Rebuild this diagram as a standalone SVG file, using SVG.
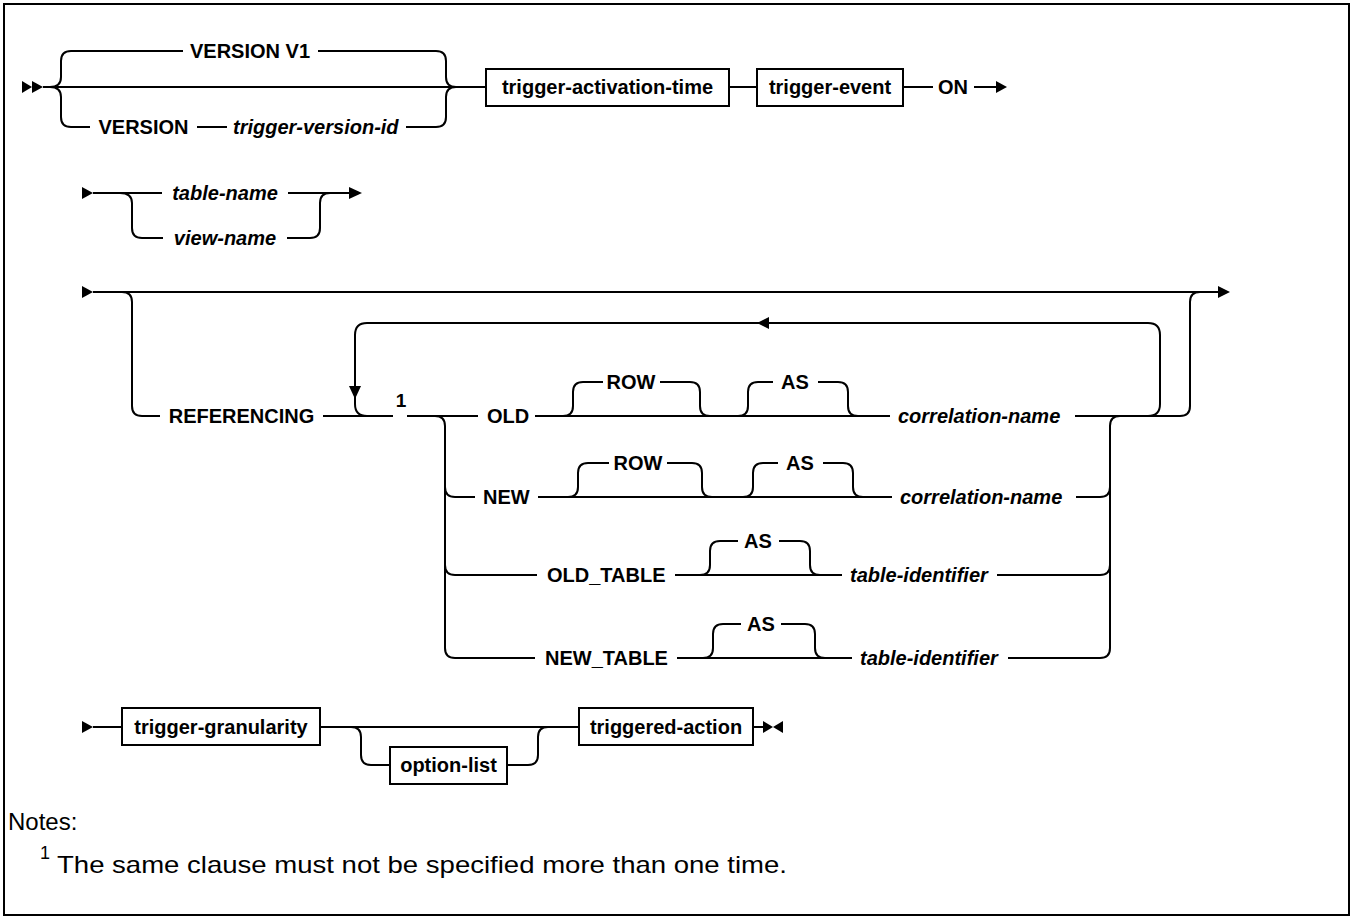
<svg xmlns="http://www.w3.org/2000/svg" width="1351" height="919" viewBox="0 0 1351 919">
<style>
.l{fill:none;stroke:#000;stroke-width:2}
.a{fill:#000;stroke:none}
.b{fill:#fff;stroke:#000;stroke-width:2}
.t{font-family:"Liberation Sans",Arial,sans-serif;font-size:20px;font-weight:bold;fill:#000}
.v{font-family:"Liberation Sans",Arial,sans-serif;font-size:20px;font-weight:bold;font-style:italic;fill:#000}
.m{text-anchor:middle}
.n{font-family:"Liberation Sans",Arial,sans-serif;font-size:24px;fill:#000}
</style>
<rect x="4" y="4" width="1345" height="911" fill="#fff" stroke="#000" stroke-width="2"/>
<g id="connectors">
<!-- row 1 -->
<polygon class="a" points="22,81 32,87 22,93"/>
<polygon class="a" points="32,81 43,87 32,93"/>
<path class="l" d="M43,87 H486"/>
<path class="l" d="M50,87 Q61,87 61,77 V61 Q61,51 71,51 H183"/>
<path class="l" d="M318,51 H436 Q446,51 446,61 V77 Q446,87 456,87"/>
<path class="l" d="M50,87 Q61,87 61,97 V117 Q61,127 71,127 H90"/>
<path class="l" d="M197,127 H227"/>
<path class="l" d="M406,127 H436 Q446,127 446,117 V97 Q446,87 456,87"/>
<path class="l" d="M729,87 H757"/>
<path class="l" d="M903,87 H933"/>
<path class="l" d="M974,87 H997"/>
<polygon class="a" points="996,81 1007,87 996,93"/>
<!-- row 2 -->
<polygon class="a" points="82,187 93,193 82,199"/>
<path class="l" d="M93,193 H162"/>
<path class="l" d="M288,193 H350"/>
<polygon class="a" points="349,187 362,193 349,199"/>
<path class="l" d="M120,193 Q132,193 132,203 V228 Q132,238 142,238 H163"/>
<path class="l" d="M287,238 H310 Q320,238 320,228 V203 Q320,193 330,193"/>
<!-- row 3 -->
<polygon class="a" points="82,286 93,292 82,298"/>
<path class="l" d="M93,292 H1219"/>
<polygon class="a" points="1218,286 1230,292 1218,298"/>
<path class="l" d="M122,292 Q132,292 132,302 V406 Q132,416 142,416 H160"/>
<path class="l" d="M323,416 H393"/>
<path class="l" d="M407,416 H478"/>
<path class="l" d="M1148,416 Q1160,416 1160,404 V335 Q1160,323 1148,323 H367 Q355,323 355,335 V404 Q355,416 367,416"/>
<polygon class="a" points="349,386 361,386 355,399"/>
<polygon class="a" points="769,317 769,329 757,323"/>
<path class="l" d="M1075,416 H1180 Q1190,416 1190,406 V302 Q1190,292 1200,292"/>
<path class="l" d="M435,416 Q445,416 445,426 V648 Q445,658 455,658 H535"/>
<path class="l" d="M445,487 Q445,497 455,497 H475"/>
<path class="l" d="M445,565 Q445,575 455,575 H537"/>
<path class="l" d="M1120,416 Q1110,416 1110,426 V648 Q1110,658 1100,658 H1008"/>
<path class="l" d="M1076,497 H1100 Q1110,497 1110,487"/>
<path class="l" d="M997,575 H1100 Q1110,575 1110,565"/>
<!-- OLD row -->
<path class="l" d="M535,416 H890"/>
<path class="l" d="M563,416 Q573,416 573,406 V392 Q573,382 583,382 H603"/>
<path class="l" d="M660,382 H690 Q700,382 700,392 V406 Q700,416 710,416"/>
<path class="l" d="M738,416 Q748,416 748,406 V392 Q748,382 758,382 H773"/>
<path class="l" d="M818,382 H838 Q848,382 848,392 V406 Q848,416 858,416"/>
<!-- NEW row -->
<path class="l" d="M538,497 H892"/>
<path class="l" d="M568,497 Q578,497 578,487 V473 Q578,463 588,463 H609"/>
<path class="l" d="M667,463 H692 Q702,463 702,473 V487 Q702,497 712,497"/>
<path class="l" d="M743,497 Q753,497 753,487 V473 Q753,463 763,463 H778"/>
<path class="l" d="M823,463 H843 Q853,463 853,473 V487 Q853,497 863,497"/>
<!-- OLD_TABLE row -->
<path class="l" d="M675,575 H842"/>
<path class="l" d="M700,575 Q710,575 710,565 V551 Q710,541 720,541 H738"/>
<path class="l" d="M779,541 H800 Q810,541 810,551 V565 Q810,575 820,575"/>
<!-- NEW_TABLE row -->
<path class="l" d="M677,658 H852"/>
<path class="l" d="M703,658 Q713,658 713,648 V634 Q713,624 723,624 H741"/>
<path class="l" d="M781,624 H805 Q815,624 815,634 V648 Q815,658 825,658"/>
<!-- row 4 -->
<polygon class="a" points="82,721 93,727 82,733"/>
<path class="l" d="M93,727 H122"/>
<path class="l" d="M320,727 H579"/>
<path class="l" d="M351,727 Q361,727 361,737 V755 Q361,765 371,765 H390"/>
<path class="l" d="M507,765 H528 Q538,765 538,755 V737 Q538,727 548,727"/>
<path class="l" d="M753,727 H763"/>
<polygon class="a" points="763,721 773,727 763,733"/>
<polygon class="a" points="783,721 773,727 783,733"/>
</g>
<g id="version-v1"><text class="t m" x="250" y="58">VERSION V1</text></g>
<g id="version"><text class="t m" x="143.5" y="134">VERSION</text></g>
<g id="trigger-version-id"><text class="v" x="233" y="134">trigger-version-id</text></g>
<g id="trigger-activation-time"><rect class="b" x="486" y="69" width="243" height="37"/><text class="t m" x="607.5" y="94">trigger-activation-time</text></g>
<g id="trigger-event"><rect class="b" x="757" y="69" width="146" height="37"/><text class="t m" x="830" y="94">trigger-event</text></g>
<g id="on"><text class="t m" x="953" y="94">ON</text></g>
<g id="table-name"><text class="v m" x="225" y="200">table-name</text></g>
<g id="view-name"><text class="v m" x="225" y="245">view-name</text></g>
<g id="referencing"><text class="t m" x="241.5" y="423">REFERENCING</text></g>
<g id="note-ref-1"><text class="t m" x="401" y="407" style="font-size:19px">1</text></g>
<g id="old"><text class="t" x="487" y="423">OLD</text></g>
<g id="old-row"><text class="t m" x="631" y="389">ROW</text></g>
<g id="old-as"><text class="t m" x="795" y="389">AS</text></g>
<g id="old-correlation-name"><text class="v" x="898" y="423">correlation-name</text></g>
<g id="new"><text class="t" x="483" y="504">NEW</text></g>
<g id="new-row"><text class="t m" x="638" y="470">ROW</text></g>
<g id="new-as"><text class="t m" x="800" y="470">AS</text></g>
<g id="new-correlation-name"><text class="v" x="900" y="504">correlation-name</text></g>
<g id="old-table"><text class="t" x="547" y="582">OLD_TABLE</text></g>
<g id="old-table-as"><text class="t m" x="758" y="548">AS</text></g>
<g id="old-table-identifier"><text class="v" x="850" y="582">table-identifier</text></g>
<g id="new-table"><text class="t" x="545" y="665">NEW_TABLE</text></g>
<g id="new-table-as"><text class="t m" x="761" y="631">AS</text></g>
<g id="new-table-identifier"><text class="v" x="860" y="665">table-identifier</text></g>
<g id="trigger-granularity"><rect class="b" x="122" y="708" width="198" height="37"/><text class="t m" x="221" y="734">trigger-granularity</text></g>
<g id="option-list"><rect class="b" x="390" y="747" width="117" height="37"/><text class="t m" x="448.5" y="772">option-list</text></g>
<g id="triggered-action"><rect class="b" x="579" y="708" width="174" height="37"/><text class="t m" x="666" y="734">triggered-action</text></g>
<g id="notes">
<text class="n" x="8" y="830">Notes:</text>
<text class="n" x="40" y="859" style="font-size:18px">1</text>
<text class="n" x="57" y="873" textLength="730" lengthAdjust="spacingAndGlyphs">The same clause must not be specified more than one time.</text>
</g>
</svg>
